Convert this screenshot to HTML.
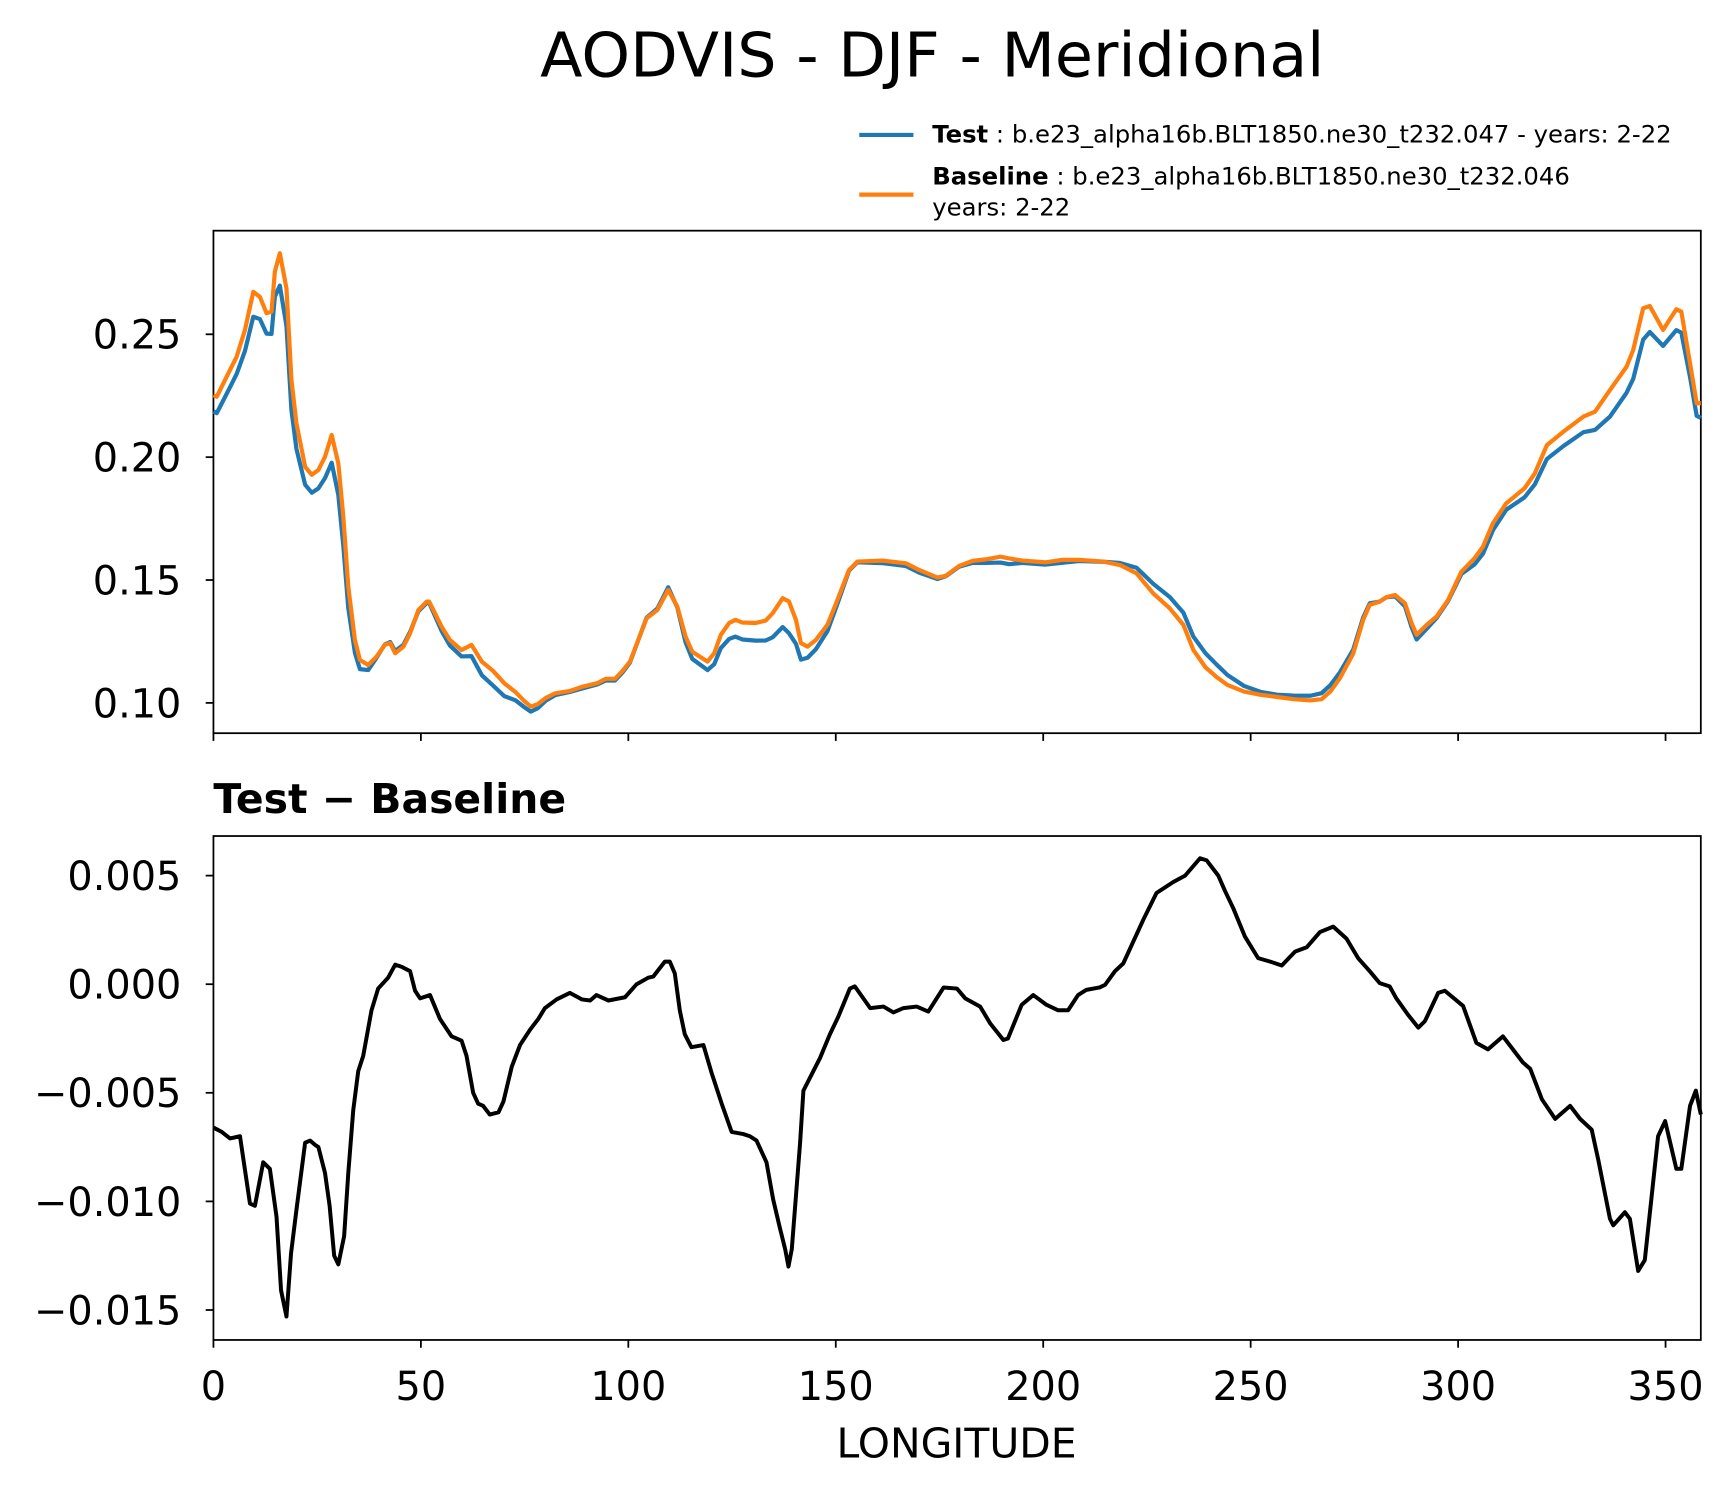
<!DOCTYPE html>
<html><head><meta charset="utf-8"><style>
html,body{margin:0;padding:0;background:#fff;}
svg{display:block;font-family:"DejaVu Sans","Liberation Sans",sans-serif;}
</style></head><body>
<svg id="chart" width="1734" height="1496" viewBox="0 0 1568 1352.8" xmlns="http://www.w3.org/2000/svg">
<rect width="1568" height="1353" fill="#fff"/>
<text x="843" y="69" font-size="56" text-anchor="middle">AODVIS - DJF - Meridional</text>
<g>
<line x1="777" y1="122" x2="826" y2="122" stroke="#1f77b4" stroke-width="3.8"/>
<text x="843" y="129" font-size="22"><tspan font-weight="bold">Test</tspan> : b.e23_alpha16b.BLT1850.ne30_t232.047 - years: 2-22</text>
<line x1="777" y1="176" x2="826" y2="176" stroke="#ff7f0e" stroke-width="3.8"/>
<text x="843" y="167" font-size="22"><tspan font-weight="bold">Baseline</tspan> : b.e23_alpha16b.BLT1850.ne30_t232.046</text>
<text x="843" y="195" font-size="22">years: 2-22</text>
</g>
<g id="top"></g>
<text x="193" y="735" font-size="37" font-weight="bold">Test − Baseline</text>
<g id="bot"></g>
<text x="865" y="1318" font-size="37" text-anchor="middle">LONGITUDE</text>
</svg>
<script>
const baseLon=[0,0.8,3.2,5.6,7.6,9.6,11.2,12.8,14.0,14.8,16.0,17.6,18.8,20.0,22.1,23.7,25.3,26.9,28.5,30.1,31.3,32.5,34.1,35.3,37.3,39.3,41.3,42.6,43.8,45.8,47.4,49.4,51.4,52.0,55.0,57.0,59.8,62.2,64.7,67.4,70.1,72.8,74.9,76.5,78.1,80.2,82.4,85.8,89.0,92.5,94.6,96.8,98.6,100.4,104.4,107.0,109.6,111.8,113.8,115.4,119.1,120.7,122.3,124.3,125.8,127.5,130.7,133.1,134.8,137.2,138.7,140.4,141.6,143.2,145.2,148.0,150.4,153.2,155.2,161.3,166.9,170.1,174.5,176.5,179.7,183.0,186.1,189.7,191.8,195.0,200.6,204.6,208.6,214.5,218.5,222.5,226.5,230.5,233.8,236.2,239.1,241.8,244.4,248.4,252.4,256.4,260.4,264.4,267.1,269.2,271.5,274.7,277.1,278.7,281.1,282.7,284.8,287.2,288.8,290.0,292.4,294.8,297.6,300.8,304.0,306.0,308.4,311.6,316.0,318.5,321.4,325.4,330.2,333.0,336.6,340.6,342.2,344.6,346.2,349.4,352.6,353.8,355.9,357.5,358.5];
const baseVal=[0.2252,0.2246,0.2328,0.2409,0.2518,0.2673,0.2652,0.2586,0.2592,0.2755,0.2830,0.2687,0.2314,0.2138,0.1961,0.1928,0.1948,0.2002,0.2090,0.1975,0.1758,0.1473,0.1256,0.1175,0.1154,0.1188,0.1236,0.1243,0.1202,0.1229,0.1283,0.1378,0.1412,0.1412,0.1310,0.1256,0.1215,0.1236,0.1168,0.1130,0.1080,0.1044,0.1008,0.0985,0.0994,0.1021,0.1039,0.1048,0.1066,0.1080,0.1098,0.1098,0.1130,0.1168,0.1344,0.1378,0.1460,0.1392,0.1270,0.1208,0.1168,0.1202,0.1277,0.1325,0.1338,0.1327,0.1325,0.1335,0.1365,0.1426,0.1413,0.1338,0.1243,0.1229,0.1256,0.1318,0.1419,0.1541,0.1575,0.1579,0.1568,0.1541,0.1510,0.1517,0.1557,0.1578,0.1584,0.1595,0.1588,0.1579,0.1572,0.1582,0.1582,0.1575,0.1561,0.1527,0.1446,0.1385,0.1317,0.1215,0.1145,0.1105,0.1073,0.1046,0.1033,0.1024,0.1015,0.1010,0.1015,0.1046,0.1100,0.1200,0.1337,0.1399,0.1412,0.1430,0.1439,0.1405,0.1324,0.1277,0.1317,0.1351,0.1419,0.1534,0.1589,0.1636,0.1731,0.1812,0.1873,0.1934,0.2049,0.2104,0.2165,0.2185,0.2273,0.2368,0.2436,0.2606,0.2615,0.2518,0.2602,0.2592,0.2382,0.2219,0.2220];
const diffLon=[0,2.0,4.0,6.4,7.6,8.8,10.0,12.0,13.6,15.2,16.3,17.6,18.7,20.0,22.1,23.3,24.5,25.3,26.9,28.0,29.1,30.1,31.5,32.5,33.7,34.9,36.1,38.1,39.7,42.1,43.8,45.4,47.4,48.6,49.8,52.2,54.6,57.4,59.8,61.0,62.6,63.8,65.0,66.6,68.7,69.9,71.9,73.9,76.3,78.3,79.9,82.7,85.9,88.8,90.8,92.3,95.2,99.2,102.0,104.8,106.0,108.8,110.0,111.2,112.4,113.6,115.2,118.1,120.1,122.5,124.9,127.7,129.3,130.9,133.3,134.9,136.5,137.8,138.6,139.4,140.3,141.4,142.2,144.6,146.2,148.6,150.6,153.4,154.6,158.3,161.5,163.9,166.3,169.5,172.3,176.0,179.2,181.2,184.8,187.2,190.4,191.5,194.8,197.6,200.8,203.6,206.0,208.4,210.4,213.6,214.9,217.3,219.3,224.1,227.3,231.3,234.2,237.8,239.4,242.2,243.8,245.8,248.6,251.8,254.7,257.5,260.7,263.5,266.7,269.9,273.1,275.9,278.7,281.1,283.5,285.1,287.9,290.4,292.0,295.2,296.8,301.2,304.4,307.2,310.8,315.6,317.4,320.2,323.4,327.0,329.4,332.2,333.8,336.6,337.4,340.2,341.4,343.4,345.0,348.2,349.9,352.6,353.8,355.9,357.3,358.5];
const diffVal=[-0.0066,-0.0068,-0.0071,-0.0070,-0.00855,-0.0101,-0.0102,-0.0082,-0.0085,-0.0107,-0.0141,-0.0153,-0.0124,-0.0104,-0.0073,-0.0072,-0.0074,-0.0075,-0.0087,-0.0102,-0.0125,-0.0129,-0.0116,-0.0087,-0.0058,-0.0040,-0.0033,-0.0012,-0.0002,0.0003,0.0009,0.0008,0.0006,-0.0003,-0.00065,-0.0005,-0.0016,-0.0024,-0.0026,-0.0033,-0.0050,-0.0055,-0.0056,-0.0060,-0.0059,-0.0054,-0.0038,-0.0028,-0.0021,-0.0016,-0.0011,-0.0007,-0.0004,-0.0007,-0.00075,-0.0005,-0.00075,-0.0006,0.0000,0.0003,0.00035,0.00104,0.00104,0.0005,-0.0012,-0.0023,-0.0029,-0.0028,-0.0041,-0.0055,-0.0068,-0.0069,-0.0070,-0.0072,-0.0082,-0.0099,-0.0112,-0.0122,-0.0130,-0.0122,-0.0100,-0.0073,-0.0049,-0.0040,-0.0034,-0.0023,-0.0015,-0.0002,-0.0001,-0.0011,-0.00103,-0.0013,-0.0011,-0.00103,-0.00126,-0.00015,-0.0002,-0.00065,-0.00103,-0.0018,-0.00257,-0.0025,-0.00095,-0.0005,-0.00095,-0.0012,-0.0012,-0.0005,-0.00026,-0.00015,-0.00003,0.0006,0.00096,0.00296,0.0042,0.0047,0.0050,0.0058,0.0057,0.0050,0.0043,0.0035,0.0022,0.0012,0.00104,0.00086,0.0015,0.0017,0.0024,0.00265,0.0021,0.0012,0.0006,0.00005,-0.0001,-0.00065,-0.0014,-0.0020,-0.0017,-0.0004,-0.0003,-0.0010,-0.0027,-0.0030,-0.0024,-0.0036,-0.0039,-0.0053,-0.0062,-0.0056,-0.0062,-0.0067,-0.0081,-0.0108,-0.0111,-0.0105,-0.0108,-0.0132,-0.0127,-0.0070,-0.0063,-0.0085,-0.0085,-0.0056,-0.0049,-0.0060];
const xTicks=[0,50,100,150,200,250,300,350];
const xTickLabels=["0","50","100","150","200","250","300","350"];
const topTicks=[0.10,0.15,0.20,0.25];
const topTickLabels=["0.10","0.15","0.20","0.25"];
const botTicks=[0.005,0,-0.005,-0.01,-0.015];
const botTickLabels=["0.005","0.000","\u22120.005","\u22120.010","\u22120.015"];

const NS="http://www.w3.org/2000/svg";
const X0=193,X1=1538,XMAX=358.5;
function xs(l){return X0+l/XMAX*(X1-X0);}
const topY=v=>302.3+(0.25-v)/0.05*111.1;
const botY=v=>890+(-v)/0.005*98.2;
function interp(xa,ya,x){
  if(x<=xa[0])return ya[0];
  for(let i=1;i<xa.length;i++){if(x<=xa[i]){const t=(x-xa[i-1])/(xa[i]-xa[i-1]);return ya[i-1]+t*(ya[i]-ya[i-1]);}}
  return ya[ya.length-1];
}
function mk(parent,tag,attrs){const e=document.createElementNS(NS,tag);for(const k in attrs)e.setAttribute(k,attrs[k]);parent.appendChild(e);return e;}
function pathD(lons,vals,yf){return lons.map((l,i)=>(i?'L':'M')+xs(l).toFixed(2)+','+yf(vals[i]).toFixed(2)).join(' ');}

function axes(g,top,bot,yTicks,yLabels,yf,showX,prefix){
  const r=mk(g,'rect',{x:X0,y:top,width:X1-X0,height:bot-top,fill:'none',stroke:'#000','stroke-width':1.6});
  
  
  yTicks.forEach((v,i)=>{
    const y=yf(v);
    const t=mk(g,'line',{x1:X0-7,x2:X0,y1:y,y2:y,stroke:'#000','stroke-width':1.6});
    
    
    const tx=mk(g,'text',{x:164,y:y+13,'font-size':36,'text-anchor':'end'});
    tx.textContent=yLabels[i];
    
    
  });
  xTicks.forEach((v,i)=>{
    const x=xs(v);
    const t=mk(g,'line',{x1:x,x2:x,y1:bot,y2:bot+7,stroke:'#000','stroke-width':1.6});
    
    
    if(showX){
      const tx=mk(g,'text',{x:x,y:1266,'font-size':36,'text-anchor':'middle'});
      tx.textContent=xTickLabels[i];
      
      
    }
  });
}
const gt=document.getElementById('top'),gb=document.getElementById('bot');
const testVal=baseLon.map((l,i)=>baseVal[i]+interp(diffLon,diffVal,l));
axes(gt,208.6,663,topTicks,topTickLabels,topY,false,'top');
const pT=mk(gt,'path',{d:pathD(baseLon,testVal,topY),fill:'none',stroke:'#1f77b4','stroke-width':3.8,'stroke-linejoin':'round'});


const pB=mk(gt,'path',{d:pathD(baseLon,baseVal,topY),fill:'none',stroke:'#ff7f0e','stroke-width':3.8,'stroke-linejoin':'round'});


axes(gb,756,1211.7,botTicks,botTickLabels,botY,true,'diff');
const pD=mk(gb,'path',{d:pathD(diffLon,diffVal,botY),fill:'none',stroke:'#000','stroke-width':3.6,'stroke-linejoin':'round'});


</script>
</body></html>
